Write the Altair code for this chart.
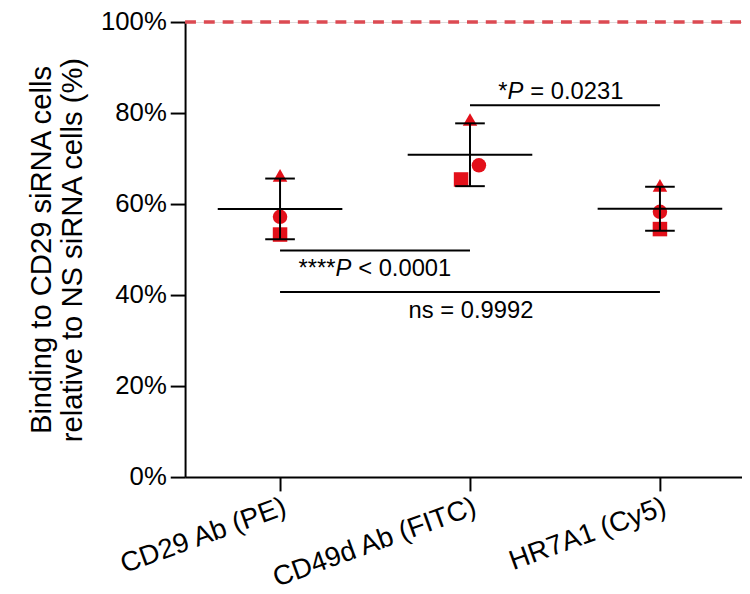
import json
import altair as alt
import pandas as pd

# ---- data ----
categories = ["CD29 Ab (PE)", "CD49d Ab (FITC)", "HR7A1 (Cy5)"]
shapes = ["triangle-up", "circle", "square"]
triangle_vals = [66.3, 78.6, 64.1]
circle_vals = [57.2, 68.5, 58.3]
square_vals = [53.3, 65.4, 54.5]
# small horizontal scatter of replicate symbols (in category units)
triangle_shift = [0.0, 0.0, 0.0]
circle_shift = [0.0, 0.047, 0.0]
square_shift = [0.0, -0.047, 0.0]

reference_level = [100]
y_ticks = [0, 20, 40, 60, 80, 100]

ann_start = [1, 0, 0]
ann_end = [2, 1, 2]
ann_level = [81.7, 49.8, 40.65]
ann_prefix = ["*", "****", ""]
ann_italic = ["P", "P", ""]
ann_suffix = ["= 0.0231", "< 0.0001", "ns = 0.9992"]

# ---- tables ----
rows = []
for i in range(len(categories)):
    for shp, vals, sh in zip(shapes, [triangle_vals, circle_vals, square_vals],
                             [triangle_shift, circle_shift, square_shift]):
        rows.append({"idx": i, "xpos": i + sh[i], "value": vals[i], "shape": shp})
pts = pd.DataFrame(rows)

RED = "#e3101a"
FONT = "Liberation Sans"

xscale = alt.Scale(domain=[-0.5, 2.432], nice=False, zero=False)
yscale = alt.Scale(domain=[0, 100], nice=False, zero=False)

label_expr = json.dumps(categories) + "[datum.value]"

x_axis = alt.Axis(values=[0, 1, 2], labelExpr=label_expr, title=None, grid=False,
                  labelAngle=-20, labelAlign="right", labelBaseline="top",
                  labelFontSize=28, labelPadding=2, labelLimit=400,
                  labelOverlap=False, labelFlush=False,
                  tickSize=14, tickWidth=2,
                  domainWidth=2, domainColor="black", tickColor="black",
                  labelColor="black", labelFont=FONT)
y_axis = alt.Axis(values=y_ticks, labelExpr="datum.value + '%'",
                  title=["Binding to CD29 siRNA cells", "relative to NS siRNA cells (%)"],
                  grid=False, labelFontSize=26, labelPadding=4, tickSize=15, tickWidth=2,
                  labelOverlap=False, labelFlush=False,
                  domainWidth=2, domainColor="black", tickColor="black",
                  labelColor="black", titleColor="black", titleFontSize=29.5,
                  titleFontWeight="normal", titleFont=FONT, labelFont=FONT,
                  titlePadding=13, titleLineHeight=32)

base = alt.Chart(pts)

points = base.mark_point(filled=True, opacity=1, color=RED, size=215).encode(
    x=alt.X("xpos:Q", scale=xscale, axis=x_axis),
    y=alt.Y("value:Q", scale=yscale, axis=y_axis),
    shape=alt.Shape("shape:N", scale=alt.Scale(domain=shapes, range=shapes), legend=None),
)

summary = base.transform_aggregate(
    mean="mean(value)", sd="stdev(value)", groupby=["idx"]
).transform_calculate(
    lo="datum.mean - datum.sd", hi="datum.mean + datum.sd",
    xl="datum.idx - 0.328", xr="datum.idx + 0.328",
    cl="datum.idx - 0.078", cr="datum.idx + 0.078",
)

mean_line = summary.mark_rule(color="black", strokeWidth=2).encode(
    x=alt.X("xl:Q", scale=xscale), x2="xr:Q", y=alt.Y("mean:Q", scale=yscale))
err_v = summary.mark_rule(color="black", strokeWidth=2).encode(
    x=alt.X("idx:Q", scale=xscale), y=alt.Y("lo:Q", scale=yscale), y2="hi:Q")
cap_hi = summary.mark_rule(color="black", strokeWidth=2).encode(
    x=alt.X("cl:Q", scale=xscale), x2="cr:Q", y=alt.Y("hi:Q", scale=yscale))
cap_lo = summary.mark_rule(color="black", strokeWidth=2).encode(
    x=alt.X("cl:Q", scale=xscale), x2="cr:Q", y=alt.Y("lo:Q", scale=yscale))

ref = alt.Chart(pd.DataFrame({"y": reference_level, "x1": [-0.5], "x2": [2.432]})).mark_rule(
    color="#dc4a52", strokeWidth=3.5, strokeDash=[11, 8]).encode(
    x=alt.X("x1:Q", scale=xscale), x2="x2:Q", y=alt.Y("y:Q", scale=yscale))

ann = pd.DataFrame({"start": ann_start, "end": ann_end, "level": ann_level,
                    "prefix": ann_prefix, "ital": ann_italic, "suffix": ann_suffix})
ann["mid"] = (ann["start"] + ann["end"]) / 2

brackets = alt.Chart(ann).mark_rule(color="black", strokeWidth=2).encode(
    x=alt.X("start:Q", scale=xscale), x2="end:Q", y=alt.Y("level:Q", scale=yscale))

# per-annotation text styling: (dx of italic P, dy)
text_style = [(-58, -6), (-40, 26), (1, 26)]
ann_layers = []
for k, (pdx, tdy) in enumerate(text_style):
    sub = alt.Chart(ann.iloc[[k]])
    enc = dict(x=alt.X("mid:Q", scale=xscale), y=alt.Y("level:Q", scale=yscale))
    common = dict(fontSize=24, font=FONT, color="black", baseline="alphabetic", dy=tdy)
    if ann_italic[k]:
        ann_layers.append(sub.mark_text(align="right", dx=pdx, **common).encode(text="prefix:N", **enc))
        ann_layers.append(sub.mark_text(align="left", dx=pdx, fontStyle="italic", **common).encode(text="ital:N", **enc))
        ann_layers.append(sub.mark_text(align="left", dx=pdx + 23, **common).encode(text="suffix:N", **enc))
    else:
        ann_layers.append(sub.mark_text(align="center", dx=pdx, **common).encode(text="suffix:N", **enc))

chart = alt.layer(points, ref, mean_line, err_v, cap_hi, cap_lo, brackets, *ann_layers).properties(
    width=563, height=460,
    autosize=alt.AutoSizeParams(type="none"),
    padding={"left": 179, "top": 11, "right": 0, "bottom": 114},
).configure_view(stroke=None).configure(font=FONT)

chart.save("out.html", embed_options={"renderer": "svg", "actions": False})
